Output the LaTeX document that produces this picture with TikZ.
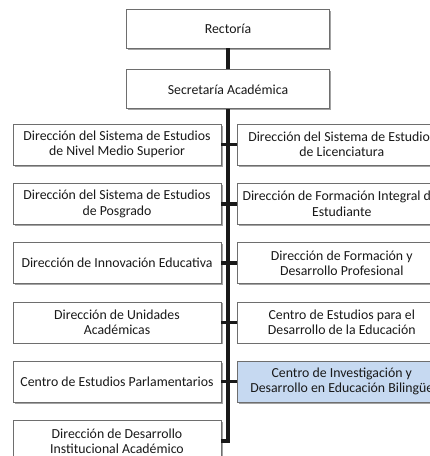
\documentclass[tikz,border=0pt]{standalone}
\usepackage{fontspec}
\setmainfont{Carlito}
\usepackage{tikz}
\usetikzlibrary{positioning,shadows}

\definecolor{boxline}{RGB}{110,110,110}
\definecolor{bilingue}{RGB}{198,217,241}

\begin{document}
\begin{tikzpicture}[x=1pt, y=1pt,
  box/.style={draw=boxline, fill=white, line width=0.8pt, rectangle, align=center,
    minimum width=208pt, inner xsep=2pt, inner ysep=2pt, minimum height=41pt,
    font=\fontsize{13.8}{15.3}\selectfont, text=black!90,
    drop shadow={shadow xshift=1.5pt, shadow yshift=-1.5pt, fill=black!45, opacity=0.8}},
  topbox/.style={box, minimum width=203pt, minimum height=39pt},
  link/.style={line width=3.5pt, black!90}]
\useasboundingbox (0,0) rectangle (430,-456);
\clip (0,0) rectangle (430,-456);

\node[topbox] (rect) at (228,-28.5) {Rectoría};
\node[topbox, below=21pt of rect] (secr) {Secretaría Académica};

% columna izquierda
\node[box] (nms) at (117,-144.5) {Dirección del Sistema de Estudios\\de Nivel Medio Superior};
\node[box, below=17.5pt of nms] (posg) {Dirección del Sistema de Estudios\\de Posgrado};
\node[box, below=17.5pt of posg] (innov) {Dirección de Innovación Educativa};
\node[box, below=17.5pt of innov] (unid) {Dirección de Unidades\\Académicas};
\node[box, below=17.5pt of unid] (parl) {Centro de Estudios Parlamentarios};
\node[box, below=17.5pt of parl] (desin) {Dirección de Desarrollo\\Institucional Académico};

% columna derecha
\node[box, right=16pt of nms] (lic) {Dirección del Sistema de Estudios\\de Licenciatura};
\node[box, right=16pt of posg] (form) {Dirección de Formación Integral del\\Estudiante};
\node[box, right=16pt of innov] (prof) {Dirección de Formación y\\Desarrollo Profesional};
\node[box, right=16pt of unid] (ced) {Centro de Estudios para el\\Desarrollo de la Educación};
\node[box, right=16pt of parl, fill=bilingue] (bil) {Centro de Investigación y\\Desarrollo en Educación Bilingüe};

\draw[link] (rect) -- (secr);
\draw[link] (secr.south) |- (desin.east);
\foreach \l/\r in {nms/lic, posg/form, innov/prof, unid/ced, parl/bil}
  \draw[link] (\l.east) -- (\r.west);
\end{tikzpicture}
\end{document}
